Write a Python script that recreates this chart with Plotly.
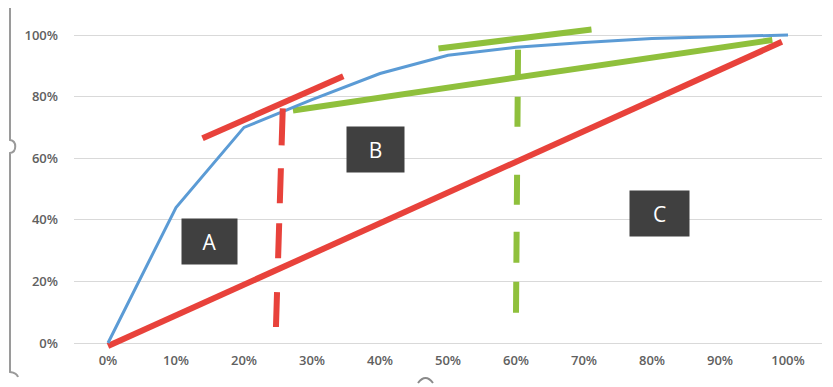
import plotly.graph_objects as go

# ---- data ----
x_share = [0.0, 0.1, 0.2, 0.3, 0.4, 0.5, 0.6, 0.7, 0.8, 0.9, 1.0]
lorenz = [0.0, 0.44, 0.70, 0.79, 0.875, 0.934, 0.96, 0.976, 0.989, 0.995, 1.0]

red_diag_x = [0.0, 0.991]
red_diag_y = [-0.01, 0.978]
red_tan_x = [0.139, 0.346]
red_tan_y = [0.665, 0.866]
red_vert_x = [0.257, 0.247]
red_vert_y = [0.762, 0.052]

green_chord_x = [0.272, 0.977]
green_chord_y = [0.755, 0.984]
green_tan_x = [0.486, 0.711]
green_tan_y = [0.956, 1.018]
green_vert_x = [0.603, 0.600]
green_vert_y = [0.952, 0.097]

y_ticks = [0, 0.2, 0.4, 0.6, 0.8, 1.0]
y_labels = ["0%", "20%", "40%", "60%", "80%", "100%"]
x_ticks = x_share
x_labels = ["0%", "10%", "20%", "30%", "40%", "50%", "60%", "70%", "80%", "90%", "100%"]

labels = ["A", "B", "C"]
label_x = [0.149, 0.394, 0.811]
label_y = [0.331, 0.628, 0.420]
label_w = [55, 57, 59]

# ---- layout geometry ----
# the page body has an 8px default margin, so the figure is offset by 8px
OFF = 8
W, H = 833 - OFF, 387 - OFF
ML, MR, MT, MB = 74 - OFF, 11, 26 - OFF, 38
PX_PER_Y = 308.0
y_top = 1 + (35 - 26) / PX_PER_Y
y_bot = -(349 - 343) / PX_PER_Y

RED = "#e8423b"
GREEN = "#8fc03c"
BLUE = "#5b9bd5"

RED_DASH = "37px,23px,35px,20px,35px,34px,35px,200px"
GREEN_DASH = "28px,19px,30px,48px,30px,27px,31px,19px,31px,200px"

fig = go.Figure()
fig.add_trace(go.Scatter(x=red_diag_x, y=red_diag_y, mode="lines",
                         line=dict(color=RED, width=6)))
fig.add_trace(go.Scatter(x=green_chord_x, y=green_chord_y, mode="lines",
                         line=dict(color=GREEN, width=6)))
fig.add_trace(go.Scatter(x=x_share, y=lorenz, mode="lines",
                         line=dict(color=BLUE, width=3)))
fig.add_trace(go.Scatter(x=red_tan_x, y=red_tan_y, mode="lines",
                         line=dict(color=RED, width=6)))
fig.add_trace(go.Scatter(x=red_vert_x, y=red_vert_y, mode="lines",
                         line=dict(color=RED, width=6, dash=RED_DASH)))
fig.add_trace(go.Scatter(x=green_tan_x, y=green_tan_y, mode="lines",
                         line=dict(color=GREEN, width=6)))
fig.add_trace(go.Scatter(x=green_vert_x, y=green_vert_y, mode="lines",
                         line=dict(color=GREEN, width=6, dash=GREEN_DASH)))

for t, lx, ly, w in zip(labels, label_x, label_y, label_w):
    fig.add_annotation(x=lx, y=ly, text=t, showarrow=False,
                       font=dict(family="Open Sans", size=21, color="white"),
                       bgcolor="#404040", width=w, height=45, borderpad=0,
                       xanchor="center", yanchor="middle")

# screenshot artefacts (selection bracket and handle), given in page pixels
pw = W - ML - MR
ph = H - MT - MB


def px(xp):
    return (xp - OFF - ML) / pw


def py(yp):
    return ((H - MB) - (yp - OFF)) / ph


def path(points_cmds):
    out = []
    for cmd, pts in points_cmds:
        s = cmd + " " + " ".join(f"{px(a):.5f},{py(b):.5f}" for a, b in pts)
        out.append(s)
    return " ".join(out)


bracket = path([("M", [(10, 5)]), ("L", [(10, 140)]),
                ("C", [(17, 141), (17, 152), (10, 153)]),
                ("L", [(10, 372)]),
                ("Q", [(17, 373), (18, 377)])])
fig.add_shape(type="path", path=bracket, xref="paper", yref="paper",
              line=dict(color="#9a9a9a", width=2))
handle = path([("M", [(418, 383)]), ("Q", [(425.5, 373), (433, 383)])])
fig.add_shape(type="path", path=handle, xref="paper", yref="paper",
              line=dict(color="#8a8a8a", width=2))

tick_font = dict(family="Open Sans", size=13, color="#606060", weight=600)
fig.update_layout(
    width=W, height=H,
    margin=dict(l=ML, r=MR, t=MT, b=MB),
    paper_bgcolor="white", plot_bgcolor="white",
    showlegend=False,
    xaxis=dict(range=[-0.05, 1.05], tickvals=x_ticks, ticktext=x_labels,
               showgrid=False, zeroline=False, showline=False,
               tickfont=tick_font, ticks="", ticklabelstandoff=2,
               fixedrange=True),
    yaxis=dict(range=[y_bot, y_top], tickvals=y_ticks, ticktext=y_labels,
               showgrid=True, gridcolor="#d9d9d9", gridwidth=1,
               zeroline=False, showline=False,
               tickfont=tick_font, ticks="", ticklabelstandoff=15,
               fixedrange=True),
)

fig.write_html("out.html")
